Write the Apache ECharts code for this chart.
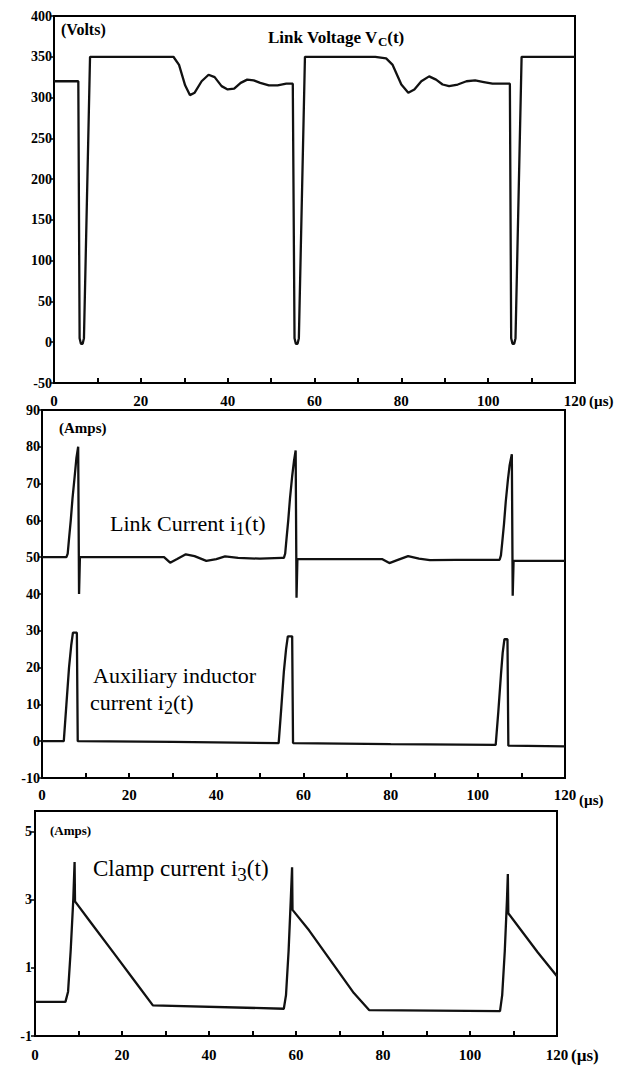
<!DOCTYPE html>
<html><head><meta charset="utf-8">
<script src="https://cdn.jsdelivr.net/npm/echarts@6/dist/echarts.min.js"></script>
<style>html,body{margin:0;padding:0;background:#fff}#c{width:637px;height:1065px}</style>
</head><body><div id="c"></div>
<script>
// ---- x axis (µs) ----
const xTickLabels = [0, 20, 40, 60, 80, 100, 120];

// ---- Link Voltage Vc(t) (Volts) ----
const vcTime  = [0, 5.6, 5.9, 6.2, 6.6, 6.9, 8.3,
  27.5, 28.8, 30.2, 31.3, 32.4, 34, 35.6, 37, 38.6, 40, 41.5, 43, 44.5, 46, 47.5, 49.5, 51.5, 53.5, 55,
  55.4, 55.7, 56.1, 56.4, 57.8,
  74, 76.5, 78, 80, 81.6, 83, 84.6, 86.4, 88, 89.5, 91, 93, 95, 97, 99, 101, 103, 105,
  105.3, 105.6, 106, 106.3, 107.7, 120];
const vcVolts = [320, 320, 5, -2, -2, 5, 350,
  350, 340, 315, 303, 306, 320, 328, 325, 314, 310, 311, 318, 322, 321, 318, 315, 315, 317, 317,
  5, -2, -2, 5, 350,
  350, 348, 340, 316, 306, 310, 320, 326, 322, 316, 314, 316, 320, 321, 319, 317, 317, 317,
  5, -2, -2, 5, 350, 350];

// ---- Link Current i1(t) (Amps) ----
const i1Time = [0, 5.6, 5.9, 6.2, 6.6, 7.0, 7.5, 7.9, 8.3, 8.5, 8.7,
  28, 29.4, 31, 33, 35, 37.7, 40, 42, 45, 50, 55,
  55.5, 55.8, 56.1, 56.5, 56.9, 57.4, 57.8, 58.2, 58.4, 58.6,
  78, 79.7, 81.5, 84, 86.5, 89, 95, 104.5,
  105, 105.3, 105.6, 106, 106.4, 106.9, 107.3, 107.8, 108.0, 108.2, 120];
const i1Amps = [50, 50, 51, 55, 60, 66, 72, 77, 80, 40, 50,
  50, 48.5, 49.5, 50.8, 50.3, 49, 49.5, 50.2, 49.8, 49.6, 49.8,
  49.8, 51, 55, 60, 66, 72, 76, 79, 39, 49.5,
  49.5, 48.4, 49.2, 50.3, 49.6, 49.2, 49.3, 49.3,
  49.3, 50.5, 54, 59, 65, 71, 75, 78, 39.5, 49, 49];

// ---- Auxiliary inductor current i2(t) (Amps) ----
const i2Time = [0, 5.0, 5.6, 6.2, 6.7, 7.1, 8.0, 8.2,
  30, 54.3, 54.9, 55.5, 56.0, 56.4, 57.4, 57.6,
  80, 104.1, 104.7, 105.3, 105.7, 106.1, 106.8, 107.0, 120];
const i2Amps = [0, 0, 10, 20, 26, 29.5, 29.5, 0,
  -0.2, -0.5, 9, 19, 25, 28.5, 28.5, -0.5,
  -0.8, -1.0, 8, 18, 24, 27.7, 27.7, -1.2, -1.4];

// ---- Clamp current i3(t) (Amps) ----
const i3Time = [0, 7.0, 7.6, 8.2, 8.8, 9.1, 9.2, 13, 18.6, 23, 27.1,
  57.2, 57.7, 58.3, 58.8, 59.1, 59.2, 63, 66.9, 73.3, 76.8,
  106.9, 107.4, 108.0, 108.5, 108.7, 108.8, 115.6, 120];
const i3Amps = [0, 0, 0.3, 1.5, 3.0, 4.1, 2.95, 2.3, 1.35, 0.6, -0.1,
  -0.2, 0.2, 1.5, 3.0, 3.95, 2.7, 2.1, 1.4, 0.26, -0.24,
  -0.27, 0.2, 1.5, 3.0, 3.75, 2.6, 1.45, 0.75];

const zip = (t, v) => t.map((x, i) => [x, v[i]]);
const FONT = '"Liberation Serif", "DejaVu Serif", serif';
const chart = echarts.init(document.getElementById('c'), null, { renderer: 'svg' });

const grids = [
  { left: 54, top: 16, width: 521, height: 367 },
  { left: 42, top: 410, width: 523, height: 368 },
  { left: 35, top: 811, width: 522, height: 225 }
];
const labelMargins = [10, 9, 11];

function xAxis(gi) {
  return {
    type: 'value', gridIndex: gi, min: 0, max: 120, interval: 10,
    axisLine: { show: true, onZero: false, lineStyle: { color: '#000', width: 2 } },
    axisTick: { show: true, inside: true, length: 5, lineStyle: { color: '#000', width: 2 } },
    axisLabel: {
      fontFamily: FONT, fontWeight: 'bold', fontSize: 15, color: '#000', margin: labelMargins[gi],
      formatter: v => xTickLabels.indexOf(v) >= 0 ? String(v) : ''
    },
    splitLine: { show: false }
  };
}
function yAxis(gi, min, max, interval, extra) {
  return Object.assign({
    type: 'value', gridIndex: gi, min: min, max: max, interval: interval,
    axisLine: { show: true, onZero: false, lineStyle: { color: '#000', width: 2 } },
    axisTick: { show: true, inside: false, length: 4, lineStyle: { color: '#000', width: 1.5 } },
    axisLabel: { fontFamily: FONT, fontWeight: 'bold', fontSize: 14, color: '#000', margin: 2 },
    splitLine: { show: false }
  }, extra || {});
}
function line(gi, data) {
  return {
    type: 'line', xAxisIndex: gi, yAxisIndex: gi, data: data, showSymbol: false,
    lineStyle: { color: '#111', width: 2.3 }, smooth: false, animation: false
  };
}
const txt = (x, y, text, font, rich) => ({
  type: 'text', x: x, y: y,
  style: { text: text, font: font, fill: '#000', textVerticalAlign: 'middle', rich: rich || {} }
});
const subRich = (size) => ({ s: { fontSize: size, fontFamily: FONT, padding: [size * 0.7, 0, 0, 0] } });

chart.setOption({
  backgroundColor: '#fff',
  animation: false,
  grid: grids.map(g => Object.assign({ show: true, borderColor: '#000', borderWidth: 2, containLabel: false }, g)),
  xAxis: [xAxis(0), xAxis(1), xAxis(2)],
  yAxis: [
    yAxis(0, -50, 400, 50),
    yAxis(1, -10, 90, 10),
    yAxis(2, -1, 5.6, 2, { axisLabel: { fontFamily: FONT, fontWeight: 'bold', fontSize: 14, color: '#000', margin: 3, showMaxLabel: false, formatter: v => Number.isInteger(v) ? String(v) : '' } })
  ],
  series: [
    line(0, zip(vcTime, vcVolts)),
    line(1, zip(i1Time, i1Amps)),
    line(1, zip(i2Time, i2Amps)),
    line(2, zip(i3Time, i3Amps))
  ],
  graphic: [
    txt(61, 29, '(Volts)', 'bold 16px ' + FONT),
    txt(268, 37, 'Link Voltage V{s|C}(t)', 'bold 17px ' + FONT, { s: { fontSize: 13, fontWeight: 'bold', fontFamily: FONT, padding: [8, 0, 0, 0] } }),
    txt(589, 401, '(µs)', 'bold 15px ' + FONT),
    txt(59, 428, '(Amps)', 'bold 15px ' + FONT),
    txt(110, 523, 'Link Current i{s|1}(t)', '22px ' + FONT, subRich(18)),
    txt(93, 675, 'Auxiliary inductor', '22px ' + FONT),
    txt(90, 702, 'current i{s|2}(t)', '22px ' + FONT, subRich(18)),
    txt(579, 800, '(µs)', 'bold 15px ' + FONT),
    txt(50, 830, '(Amps)', 'bold 13px ' + FONT),
    txt(93, 868, 'Clamp current i{s|3}(t)', '23px ' + FONT, subRich(19)),
    txt(571, 1055, '(µs)', 'bold 17px ' + FONT)
  ]
});
</script></body></html>
